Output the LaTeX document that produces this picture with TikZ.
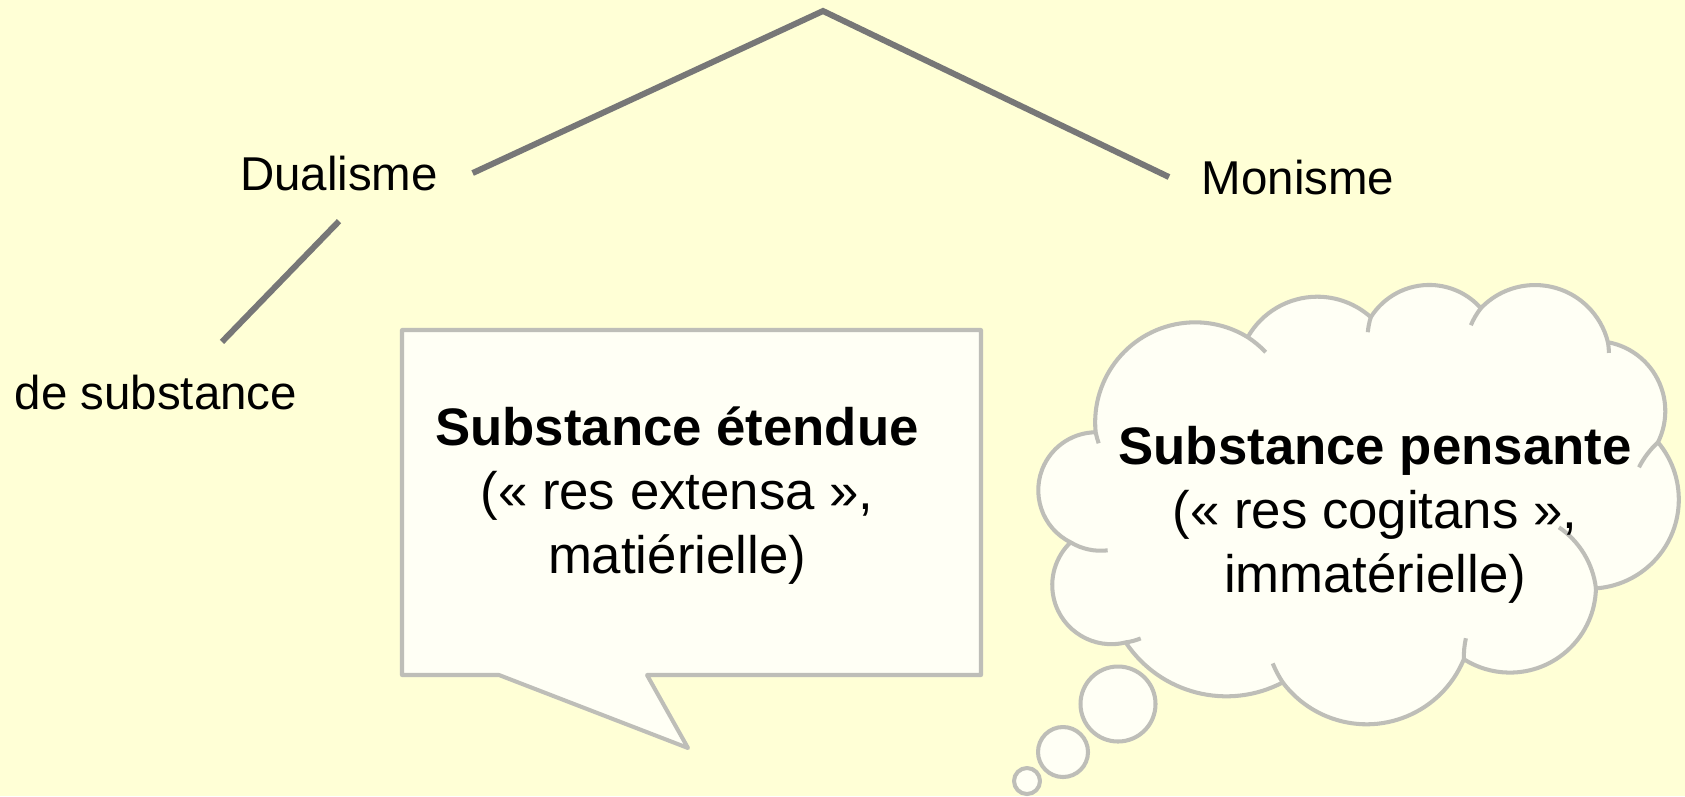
\documentclass[tikz,border=0pt]{standalone}
\usepackage{fontspec}
\setmainfont{Liberation Sans}
\usetikzlibrary{svg.path}

\definecolor{bgyellow}{HTML}{FFFFD6}
\definecolor{balloonfill}{HTML}{FFFFF5}
\definecolor{balloonline}{HTML}{BEBEB8}
\definecolor{branchgray}{HTML}{777777}

\tikzset{
  branch/.style={draw=branchgray, line width=1.7pt},
  balloon/.style={draw=balloonline, fill=balloonfill, line width=1.15pt, line join=round},
  stub/.style={draw=balloonline, line width=1.15pt},
  lbl/.style={inner sep=0pt, font=\fontsize{13.5}{16}\selectfont},
  balloontext/.style={inner sep=0pt, align=center, font=\fontsize{15}{18.2}\selectfont},
}

\begin{document}
\begin{tikzpicture}[x=0.01cm, y=-0.01cm]
  % Background and page size (pixel units, y pointing down).
  \fill[bgyellow] (0,0) rectangle (1685,796);
  \useasboundingbox (0,0) rectangle (1685,796);
  % Speech balloon with its tail.
  \draw[balloon] (402,330) -- (981,330) -- (981,675) -- (647,675)
    -- (688,748) -- (499,675) -- (402,675) -- cycle;
  % Thought cloud, lobes drawn as arcs between cusps.
  \begin{scope}[scale=0.28453, yscale=-1]
    \draw[balloon] svg {M 1095 432 A 100 100 0 0 1 1247 337
      A 80 80 0 0 1 1370 317 A 69 69 0 0 1 1480 308
      A 75 75 0 0 1 1607 342 A 70 70 0 0 1 1657 442
      A 89 89 0 0 1 1595 588 A 86 86 0 0 1 1463 658
      A 105 105 0 0 1 1282 682 A 121 121 0 0 1 1125 642
      A 59 59 0 0 1 1070 542 A 58 58 0 0 1 1095 432 Z};
    % Short inner arcs where the lobes meet.
    \draw[stub] svg {M 1098 443 A 100 100 0 0 1 1095 432
      M 1247 337 A 100 100 0 0 1 1265 352
      M 1367 332 A 69 69 0 0 1 1370 317
      M 1470 325 A 75 75 0 0 1 1480 308
      M 1607 342 A 75 75 0 0 1 1608 352
      M 1638 467 A 89 89 0 0 1 1657 442
      M 1558 527 A 86 86 0 0 1 1595 588
      M 1463 658 A 86 86 0 0 1 1465 637
      M 1282 682 A 105 105 0 0 1 1272 663
      M 1140 638 A 59 59 0 0 1 1125 642
      M 1107 550 A 58 58 0 0 1 1070 542};
  \end{scope}
  % Small bubbles leading to the cloud.
  \draw[balloon] (1118,704) circle[radius=37.5];
  \draw[balloon] (1063,752) circle[radius=25];
  \draw[balloon] (1027,781) circle[radius=13];
  % Texts in the balloons.
  \node[balloontext] (etendue) at (677,496)
    {\textbf{Substance étendue}\\(« res extensa »,\\matiérielle)};
  \node[balloontext] (pensante) at (1375,515)
    {\textbf{Substance pensante}\\(« res cogitans »,\\immatérielle)};
  % Tree labels and branches.
  \coordinate (apex) at (823,11);
  \node[lbl, anchor=base] (dual) at (339,190) {Dualisme};
  \node[lbl, anchor=base] (mon) at (1298,194) {Monisme};
  \node[lbl, anchor=base west] (subst) at (14,409) {de substance};
  \draw[branch] ([xshift=3.4mm]dual.east) -- (apex)
    -- ([xshift=-3.2mm]mon.west);
  \draw[branch] ([yshift=-3mm]dual.south) -- ([xshift=6.6mm,yshift=3.2mm]subst.north);
\end{tikzpicture}
\end{document}
